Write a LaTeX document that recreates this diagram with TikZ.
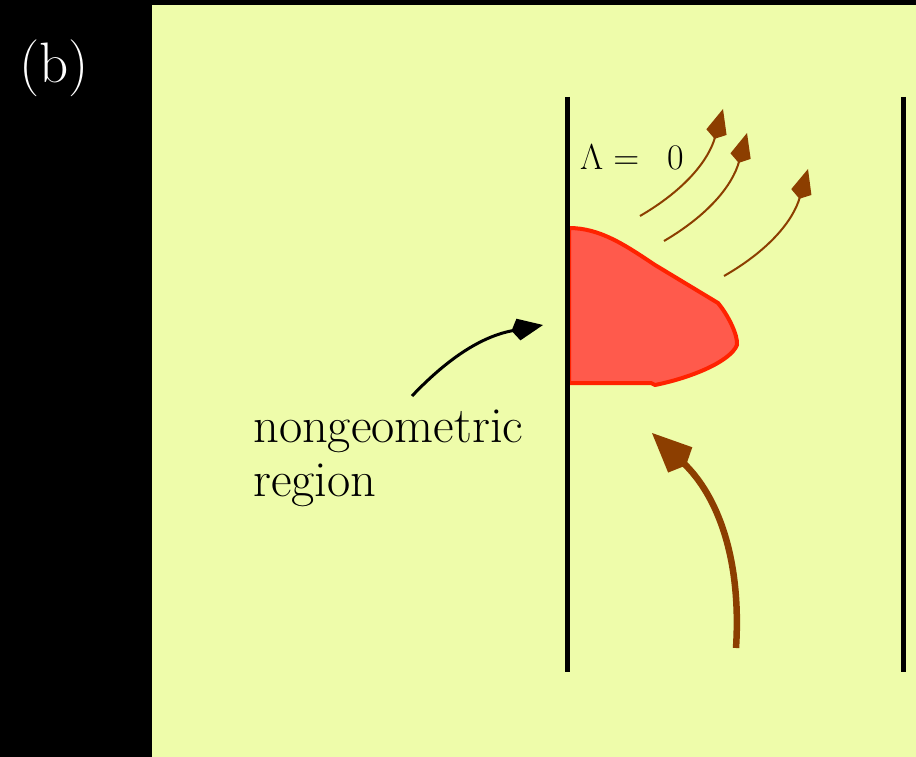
\RequirePackage{fix-cm}
\documentclass[tikz,border=0pt]{standalone}
\usepackage{amsmath,amssymb}
\usetikzlibrary{arrows.meta}

\definecolor{paper}{RGB}{238,252,170}
\definecolor{blobfill}{RGB}{255,90,76}
\definecolor{blobline}{RGB}{255,34,0}
\definecolor{rust}{RGB}{140,62,0}

\begin{document}
\begin{tikzpicture}[x=1pt,y=-1pt,
  wall/.style={line width=5pt},
  blob/.style={fill=blobfill,draw=blobline,line width=4pt,line join=round},
  leak/.style={rust,line width=2pt,-{Kite[length=31pt,width=21pt,inset=7pt]}},
  push/.style={rust,line width=6.5pt,-{Kite[length=47pt,width=35pt,inset=8pt]}},
  hint/.style={black,line width=3pt,-{Kite[length=32pt,width=22pt,inset=7pt]}}]

\useasboundingbox (0,0) rectangle (916,757);
\fill[black] (0,0) rectangle (916,757);
\fill[paper] (152,5) rectangle (916,757);

\node[white,anchor=base west,inner sep=0pt,font=\fontsize{57}{64}\selectfont] (tag) at (19,83) {(b)};

% red region against the wall
\draw[blob] (569,228) .. controls (600,228) and (625,245) .. (655,265) -- (718,303)
  .. controls (728,315) and (738,335) .. (737,345)
  .. controls (730,362) and (690,378) .. (655,385) -- (651,383) -- (569,383) -- cycle;

% walls
\coordinate (lt) at (567,97);
\coordinate (lb) at (567,672);
\coordinate (rt) at (903,97);
\coordinate (rb) at (903,672);
\draw[wall] (lt) -- (lb);
\draw[wall] (rt) -- (rb);

\node[anchor=base west,inner sep=0pt,font=\fontsize{36}{42}\selectfont] (lam) at (580,170) {$\Lambda = \enspace 0$};

% outgoing arrows
\coordinate (a1) at (640,216);
\coordinate (b1) at (723,109);
\coordinate (a2) at (664,241);
\coordinate (b2) at (747,133);
\coordinate (a3) at (724,276);
\coordinate (b3) at (808,169);
\draw[leak] (a1) to[bend right=22] (b1);
\draw[leak] (a2) to[bend right=22] (b2);
\draw[leak] (a3) to[bend right=22] (b3);

% incoming arrow
\coordinate (p0) at (736,648);
\coordinate (p1) at (652,433);
\draw[push] (p0) to[bend right=25] (p1);

\node[anchor=base west,inner sep=0pt,align=left,font=\fontsize{50.5}{54}\selectfont] (label) at (253,496) {nongeometric\\region};
\coordinate (h0) at (412,396);
\coordinate (h1) at (543,325);
\draw[hint] (h0) to[bend left=18] (h1);
\end{tikzpicture}
\end{document}
